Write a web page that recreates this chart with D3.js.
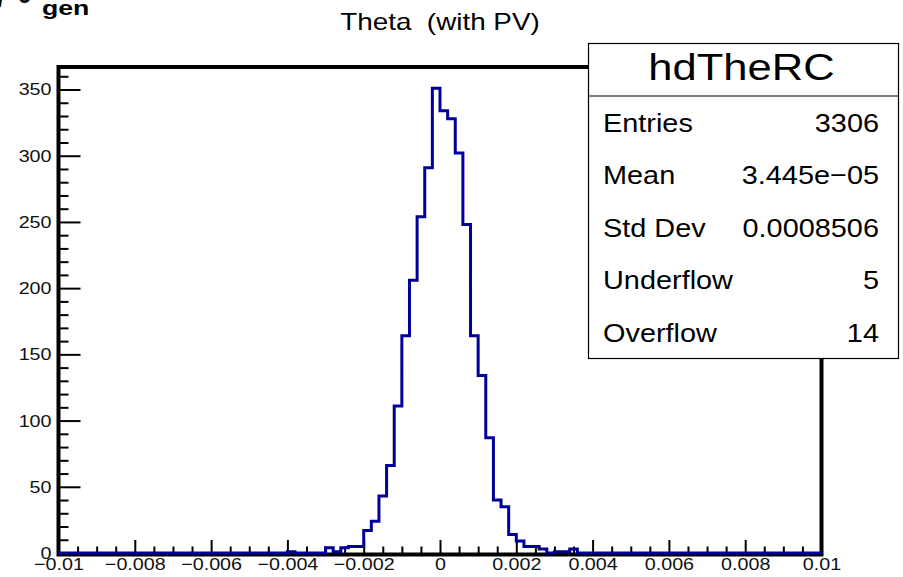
<!DOCTYPE html>
<html>
<head>
<meta charset="utf-8">
<script src="https://cdn.jsdelivr.net/npm/d3@7"></script>
<style>
  body { margin: 0; background: #fff; }
  text { font-family: "Liberation Sans", Arial, sans-serif; }
</style>
</head>
<body>
<div id="chart"></div>
<script>
// histogram hdTheRC, 100 bins on [-0.01, 0.01]
const xMin = -0.01, xMax = 0.01, binWidth = 0.0002;
const counts = [
  0, 0, 0, 0, 0, 0, 0, 0, 0, 0,
  0, 0, 0, 0, 0, 0, 0, 0, 0, 0,
  0, 0, 0, 0, 0, 0, 0, 0, 0, 0,
  1, 0, 0, 0, 0, 4, 1, 4, 5, 5,
  17, 24, 43, 66, 111, 164, 206, 254, 291, 351,
  334, 328, 302, 248, 164, 134, 87, 40, 35, 14,
  9, 5, 5, 3, 0, 1, 1, 3, 0, 0,
  0, 0, 0, 0, 0, 0, 0, 0, 0, 0,
  0, 0, 0, 0, 0, 0, 0, 0, 0, 0,
  0, 0, 0, 0, 0, 0, 0, 0, 0, 0
];
const yTop = 367;

const xTicks = [-0.01, -0.008, -0.006, -0.004, -0.002, 0, 0.002, 0.004, 0.006, 0.008, 0.01];
const xMinorTicks = d3.range(-0.0095, 0.01, 0.0005).filter(v => Math.abs(Math.round(v / 0.002) * 0.002 - v) > 1e-9);
const yTicks = [0, 50, 100, 150, 200, 250, 300, 350];
const yMinorTicks = d3.range(10, 367, 10).filter(v => v % 50 !== 0);

const statLabels = ["Entries", "Mean", "Std Dev", "Underflow", "Overflow"];
const statValues = ["3306", "3.445e\u221205", "0.0008506", "5", "14"];

const W = 903, H = 577;
const margin = {top: 67, right: 81.5, bottom: 24, left: 58.5};
const sx = 1.16; // the reference text is a bit wider than the font

const svg = d3.select("#chart").append("svg")
  .attr("width", W).attr("height", H);

const x = d3.scaleLinear().domain([xMin, xMax]).range([margin.left, W - margin.right]);
const y = d3.scaleLinear().domain([0, yTop]).range([H - margin.bottom, margin.top]);

// wide text helper
function wideText(parent, px, py, str, size, stretch, anchor) {
  return parent.append("text")
    .attr("transform", `translate(${px},${py}) scale(${stretch},1)`)
    .attr("text-anchor", anchor || "start")
    .attr("font-size", size)
    .style("white-space", "pre")
    .text(str);
}

// frame
svg.append("rect")
  .attr("x", x(xMin)).attr("y", y(yTop))
  .attr("width", x(xMax) - x(xMin)).attr("height", y(0) - y(yTop) + 1.5)
  .attr("fill", "none").attr("stroke", "#000").attr("stroke-width", 4);

// y axis
svg.append("g")
  .attr("transform", `translate(${x(xMin)},0)`)
  .call(d3.axisLeft(y).tickValues(yTicks).tickSizeInner(-22).tickSizeOuter(0).tickPadding(6))
  .call(g => g.select(".domain").remove())
  .call(g => g.selectAll("line").attr("stroke-width", 2))
  .call(g => g.selectAll("text").attr("font-size", 17).attr("fill", "#111")
    .attr("font-family", "Liberation Sans").attr("transform", `scale(${sx},1)`));

svg.append("g")
  .attr("transform", `translate(${x(xMin)},0)`)
  .call(d3.axisLeft(y).tickValues(yMinorTicks).tickSizeInner(-10).tickSizeOuter(0).tickFormat(""))
  .call(g => g.select(".domain").remove())
  .call(g => g.selectAll("line").attr("stroke-width", 2));

// x axis
svg.append("g")
  .attr("transform", `translate(0,${y(0)})`)
  .call(d3.axisBottom(x).tickValues(xTicks).tickSizeInner(-13).tickSizeOuter(0)
    .tickPadding(5).tickFormat(d3.format("~g")))
  .call(g => g.select(".domain").remove())
  .call(g => g.selectAll("line").attr("stroke-width", 2))
  .call(g => g.selectAll("text").attr("font-size", 17).attr("fill", "#111")
    .attr("font-family", "Liberation Sans").attr("transform", `scale(${sx},1)`));

svg.append("g")
  .attr("transform", `translate(0,${y(0)})`)
  .call(d3.axisBottom(x).tickValues(xMinorTicks).tickSizeInner(-6.5).tickSizeOuter(0).tickFormat(""))
  .call(g => g.select(".domain").remove())
  .call(g => g.selectAll("line").attr("stroke-width", 2));

// histogram outline
const pts = [[xMin, 0]];
counts.forEach((c, i) => pts.push([xMin + i * binWidth, c]));
pts.push([xMax, counts[counts.length - 1]]);
pts.push([xMax, 0]);

svg.append("path")
  .datum(pts)
  .attr("fill", "none")
  .attr("stroke", "#000099")
  .attr("stroke-width", 3)
  .attr("d", d3.line().x(d => x(d[0])).y(d => y(d[1])).curve(d3.curveStepAfter));

// stats box
const box = {x: 588.5, y: 43.5, w: 310, h: 315, head: 52.5};
const sb = svg.append("g");
sb.append("rect").attr("x", box.x).attr("y", box.y).attr("width", box.w).attr("height", box.h)
  .attr("fill", "#fff").attr("stroke", "#000").attr("stroke-width", 1.2);
sb.append("line").attr("x1", box.x).attr("x2", box.x + box.w)
  .attr("y1", box.y + box.head).attr("y2", box.y + box.head)
  .attr("stroke", "#000").attr("stroke-width", 1.2);
wideText(sb, box.x + box.w / 2 - 2, 80, "hdTheRC", 36, 1.21, "middle");
statLabels.forEach((d, i) => wideText(sb, 603, 131.5 + i * 52.5, d, 26.5, 1.09, "start"));
statValues.forEach((d, i) => wideText(sb, 879, 131.5 + i * 52.5, d, 26.5, 1.09, "end"));

// title
wideText(svg, 440, 30, "Theta  (with PV)", 24, sx, "middle");

// axis title, mostly clipped at the top edge
const at = svg.append("g").attr("font-family", "DejaVu Sans").attr("font-weight", "bold");
wideText(at, -3, 6, "/", 28, 1, "start");
wideText(at, 17, 3, "\u03b8", 28, 1, "start");
wideText(at, 42, 15, "gen", 21, 1.27, "start");
</script>
</body>
</html>
